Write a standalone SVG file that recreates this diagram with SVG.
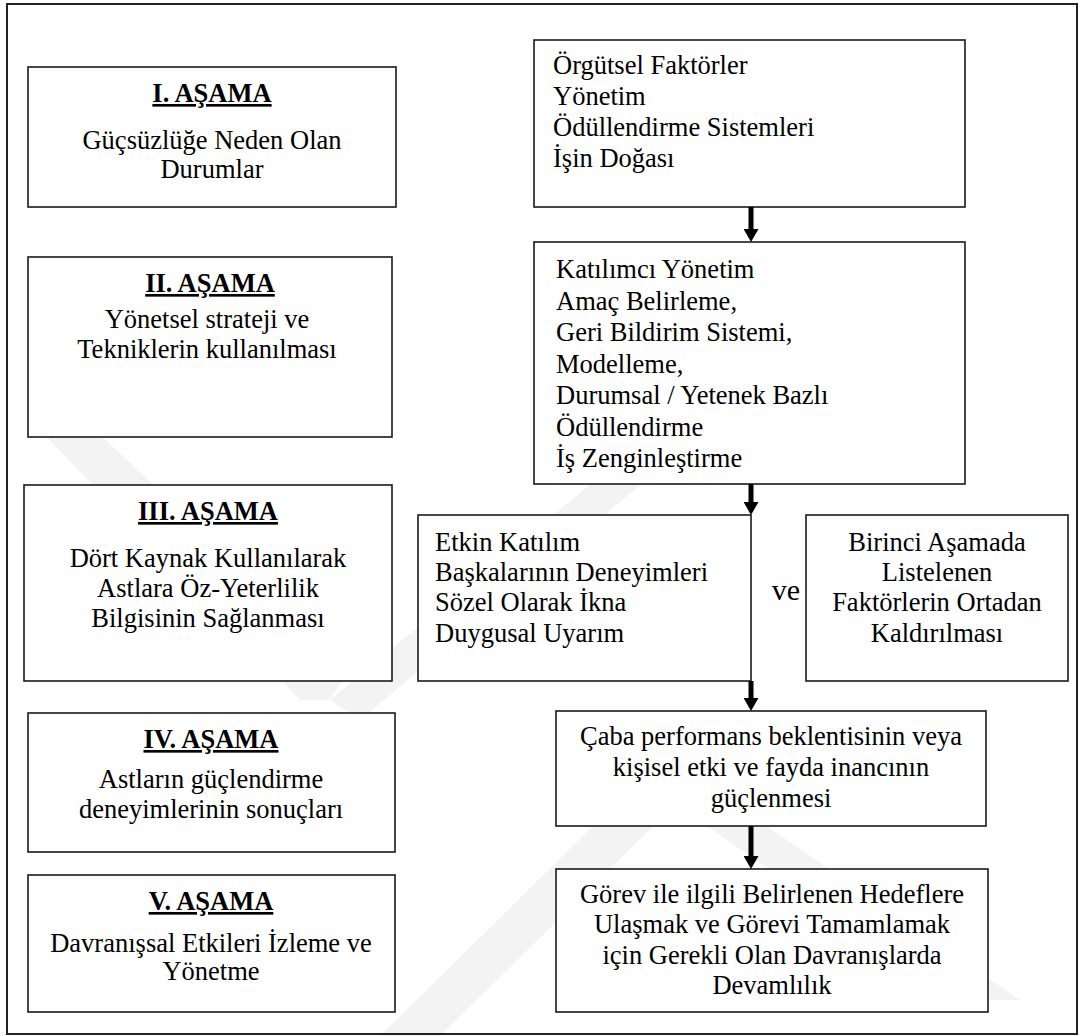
<svg xmlns="http://www.w3.org/2000/svg" width="1088" height="1036" viewBox="0 0 1088 1036">
  <defs>
    <style>
      .frame { fill: none; stroke: #222; stroke-width: 2; }
      .box { fill: #fff; stroke: #1a1a1a; stroke-width: 1.6; }
      .txt { font-family: "Liberation Serif", "Times New Roman", serif; font-size: 26.5px; fill: #000; }
      .mid { text-anchor: middle; }
      .head { font-weight: bold; text-decoration: underline; }
      .shaft { stroke: #000; stroke-width: 5; fill: none; }
      .mark { fill: #f3f3f3; }
    </style>
    <marker id="tip" viewBox="0 0 13 15" refX="1" refY="7.5" markerWidth="13" markerHeight="15" markerUnits="userSpaceOnUse" orient="auto">
      <path d="M0,0 L13,7.5 L0,15 z" fill="#000"/>
    </marker>
  </defs>

  <rect width="1088" height="1036" fill="#fff"/>

  <!-- faint background emblem -->
  <g id="emblem">
    <polygon class="mark" points="40,430 95,430 350,668 330,700 300,700"/>
    <polygon class="mark" points="330,700 620,460 670,460 360,720"/>
    <polygon class="mark" points="380,1036 640,780 700,780 440,1036"/>
    <polygon class="mark" points="640,780 700,780 1020,1000 960,1000"/>
  </g>

  <rect class="frame" x="7" y="4" width="1070" height="1030"/>

  <!-- stage column -->
  <g id="stage1">
    <rect class="box" x="28" y="67" width="368" height="140"/>
    <text class="txt mid head" x="212" y="102">I. AŞAMA</text>
    <text class="txt mid" x="212" y="149">Güçsüzlüğe Neden Olan</text>
    <text class="txt mid" x="212" y="178">Durumlar</text>
  </g>
  <g id="stage2">
    <rect class="box" x="28" y="257" width="364" height="180"/>
    <text class="txt mid head" x="210" y="292">II. AŞAMA</text>
    <text class="txt mid" x="207" y="328">Yönetsel strateji ve</text>
    <text class="txt mid" x="207" y="358">Tekniklerin kullanılması</text>
  </g>
  <g id="stage3">
    <rect class="box" x="24" y="485" width="368" height="196"/>
    <text class="txt mid head" x="208" y="520">III. AŞAMA</text>
    <text class="txt mid" x="208" y="567">Dört Kaynak Kullanılarak</text>
    <text class="txt mid" x="208" y="597">Astlara Öz-Yeterlilik</text>
    <text class="txt mid" x="208" y="627">Bilgisinin Sağlanması</text>
  </g>
  <g id="stage4">
    <rect class="box" x="28" y="713" width="367" height="139"/>
    <text class="txt mid head" x="211" y="748">IV. AŞAMA</text>
    <text class="txt mid" x="211" y="788">Astların güçlendirme</text>
    <text class="txt mid" x="211" y="818">deneyimlerinin sonuçları</text>
  </g>
  <g id="stage5">
    <rect class="box" x="28" y="875" width="367" height="137"/>
    <text class="txt mid head" x="211" y="910">V. AŞAMA</text>
    <text class="txt mid" x="211" y="952">Davranışsal Etkileri İzleme ve</text>
    <text class="txt mid" x="211" y="980">Yönetme</text>
  </g>

  <!-- process column -->
  <g id="factors">
    <rect class="box" x="534" y="40" width="431" height="167"/>
    <text class="txt" x="553" y="74">Örgütsel Faktörler</text>
    <text class="txt" x="553" y="105">Yönetim</text>
    <text class="txt" x="553" y="136">Ödüllendirme Sistemleri</text>
    <text class="txt" x="553" y="167">İşin Doğası</text>
  </g>
  <g id="techniques">
    <rect class="box" x="534" y="242" width="431" height="242"/>
    <text class="txt" x="556" y="278">Katılımcı Yönetim</text>
    <text class="txt" x="556" y="309.5">Amaç Belirleme,</text>
    <text class="txt" x="556" y="341">Geri Bildirim Sistemi,</text>
    <text class="txt" x="556" y="372.5">Modelleme,</text>
    <text class="txt" x="556" y="404">Durumsal / Yetenek Bazlı</text>
    <text class="txt" x="556" y="435.5">Ödüllendirme</text>
    <text class="txt" x="556" y="467">İş Zenginleştirme</text>
  </g>
  <g id="sources">
    <rect class="box" x="418" y="515" width="333" height="166"/>
    <text class="txt" x="435" y="551">Etkin Katılım</text>
    <text class="txt" x="435" y="581">Başkalarının Deneyimleri</text>
    <text class="txt" x="435" y="611">Sözel Olarak İkna</text>
    <text class="txt" x="435" y="642">Duygusal Uyarım</text>
  </g>
  <g id="and-label">
    <text class="txt mid" x="786" y="600" style="font-size:30px">ve</text>
  </g>
  <g id="removal">
    <rect class="box" x="806" y="515" width="262" height="166"/>
    <text class="txt mid" x="937" y="551">Birinci Aşamada</text>
    <text class="txt mid" x="937" y="581">Listelenen</text>
    <text class="txt mid" x="937" y="611">Faktörlerin Ortadan</text>
    <text class="txt mid" x="937" y="642">Kaldırılması</text>
  </g>
  <g id="expectancy">
    <rect class="box" x="556" y="711" width="430" height="115"/>
    <text class="txt mid" x="771" y="745">Çaba performans beklentisinin veya</text>
    <text class="txt mid" x="771" y="776">kişisel etki ve fayda inancının</text>
    <text class="txt mid" x="771" y="807">güçlenmesi</text>
  </g>
  <g id="persistence">
    <rect class="box" x="556" y="869" width="432" height="143"/>
    <text class="txt mid" x="772" y="903">Görev ile ilgili Belirlenen Hedeflere</text>
    <text class="txt mid" x="772" y="933">Ulaşmak ve Görevi Tamamlamak</text>
    <text class="txt mid" x="772" y="964">için Gerekli Olan Davranışlarda</text>
    <text class="txt mid" x="772" y="994">Devamlılık</text>
  </g>

  <g id="connectors">
    <line class="shaft" x1="751" y1="207" x2="751" y2="230" marker-end="url(#tip)"/>
    <line class="shaft" x1="751" y1="484" x2="751" y2="503" marker-end="url(#tip)"/>
    <line class="shaft" x1="751" y1="681" x2="751" y2="699" marker-end="url(#tip)"/>
    <line class="shaft" x1="751" y1="826" x2="751" y2="857" marker-end="url(#tip)"/>
  </g>
</svg>
